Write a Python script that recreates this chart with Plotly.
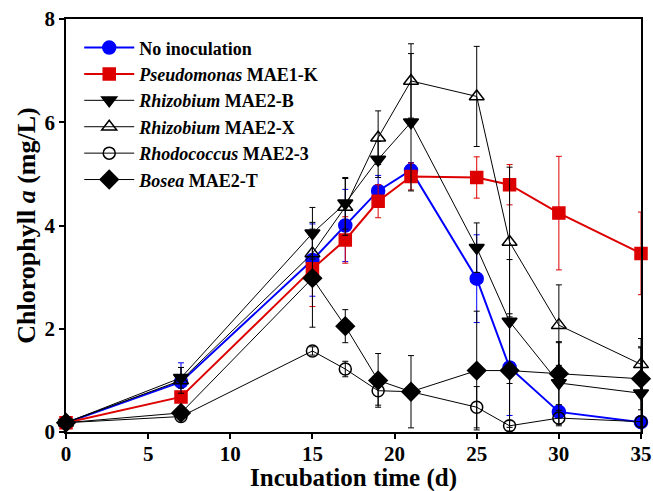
import plotly.graph_objects as go

days = [0, 7, 15, 17, 19, 21, 25, 27, 30, 35]

no_inoc = [0.18, 0.97, 3.33, 4.00, 4.67, 5.07, 2.97, 1.25, 0.39, 0.19]
no_inoc_err = [0.03, 0.37, 0.70, 0.70, 0.30, 0.15, 0.85, 0.93, 0.10, 0.05]

pseudo = [0.18, 0.68, 3.16, 3.72, 4.47, 4.95, 4.93, 4.79, 4.24, 3.46]
pseudo_err = [0.03, 0.10, 0.73, 0.45, 0.32, 0.26, 0.40, 0.39, 1.10, 0.80]

rhiz_b = [0.18, 1.05, 3.85, 4.43, 5.28, 6.00, 3.57, 2.14, 0.95, 0.75]
rhiz_b_err = [0.03, 0.20, 0.50, 0.50, 0.35, 1.33, 0.48, 1.20, 0.80, 0.90]

rhiz_x = [0.18, 1.00, 3.46, 4.36, 5.70, 6.80, 6.50, 3.68, 2.07, 1.31]
rhiz_x_err = [0.03, 0.25, 0.60, 0.55, 0.52, 0.72, 0.97, 1.45, 0.78, 0.50]

rhodo = [0.18, 0.30, 1.57, 1.22, 0.80, 0.78, 0.48, 0.12, 0.27, 0.20]
rhodo_err = [0.03, 0.05, 0.08, 0.15, 0.28, 0.10, 0.40, 0.10, 0.15, 0.10]

bosea = [0.18, 0.37, 2.98, 2.05, 1.00, 0.78, 1.19, 1.19, 1.13, 1.03]
bosea_err = [0.03, 0.05, 0.95, 0.32, 0.52, 0.70, 1.15, 1.10, 0.60, 0.60]

x_title = "<b>Incubation time (d)</b>"
y_title = "<b>Chlorophyll <i>a</i> (mg/L)</b>"

series = [
    ("<b>No inoculation</b>", no_inoc, no_inoc_err, "#0000ff", "circle", 13, 2, "#0000ff"),
    ("<b><i>Pseudomonas</i> MAE1-K</b>", pseudo, pseudo_err, "#dd0000", "square", 12, 2, "#dd0000"),
    ("<b><i>Rhizobium</i> MAE2-B</b>", rhiz_b, rhiz_b_err, "black", "triangle-down", 13, 1, "black"),
    ("<b><i>Rhizobium</i> MAE2-X</b>", rhiz_x, rhiz_x_err, "black", "triangle-up-open", 13, 1, "black"),
    ("<b><i>Rhodococcus</i> MAE2-3</b>", rhodo, rhodo_err, "black", "circle-open", 12, 1, "black"),
    ("<b><i>Bosea</i> MAE2-T</b>", bosea, bosea_err, "black", "diamond", 14, 1, "black"),
]

fig = go.Figure()
for name, y, err, col, sym, size, lw, ecol in series:
    fig.add_trace(go.Scatter(
        x=days, y=y, name=name, mode="lines+markers",
        line=dict(color=col, width=lw),
        marker=dict(symbol=sym, size=size, color=col,
                    line=dict(color=col, width=1.5)),
        error_y=dict(type="data", array=err, visible=True, color=ecol,
                     thickness=1, width=3),
        cliponaxis=False,
    ))

font_family = "Liberation Serif, Times New Roman, serif"
tick_font = dict(size=21, family=font_family, color="black", weight="bold")
fig.update_layout(
    width=653, height=491,
    margin=dict(l=66, r=12, t=19, b=59),
    paper_bgcolor="white", plot_bgcolor="white",
    font=dict(family=font_family, color="black"),
    showlegend=True,
    legend=dict(x=0.023, y=0.975, xanchor="left", yanchor="top",
                font=dict(size=18, family=font_family, color="black"),
                bgcolor="rgba(0,0,0,0)", itemwidth=50, tracegroupgap=0),
    xaxis=dict(range=[0, 35], tickvals=[0, 5, 10, 15, 20, 25, 30, 35],
               ticks="outside", ticklen=5, tickwidth=1.5, tickcolor="black",
               ticklabelstandoff=-3,
               showline=True, linecolor="black", linewidth=1.5, mirror=True,
               showgrid=False, zeroline=False, automargin=False,
               tickfont=tick_font),
    yaxis=dict(range=[0, 8], tickvals=[0, 2, 4, 6, 8],
               ticks="outside", ticklen=5, tickwidth=1.5, tickcolor="black",
               ticklabelstandoff=0,
               showline=True, linecolor="black", linewidth=1.5, mirror=True,
               showgrid=False, zeroline=False, automargin=False,
               tickfont=tick_font,
               title=dict(text=y_title,
                          font=dict(size=26, family=font_family, color="black"),
                          standoff=1)),
    annotations=[dict(text=x_title, xref="paper", yref="paper",
                      x=0.5, y=-0.112, xanchor="center", yanchor="middle",
                      showarrow=False,
                      font=dict(size=25, family=font_family, color="black"))],
)

fig.write_html("out.html", config={"displayModeBar": False},
               post_script="document.body.style.margin='0';")
